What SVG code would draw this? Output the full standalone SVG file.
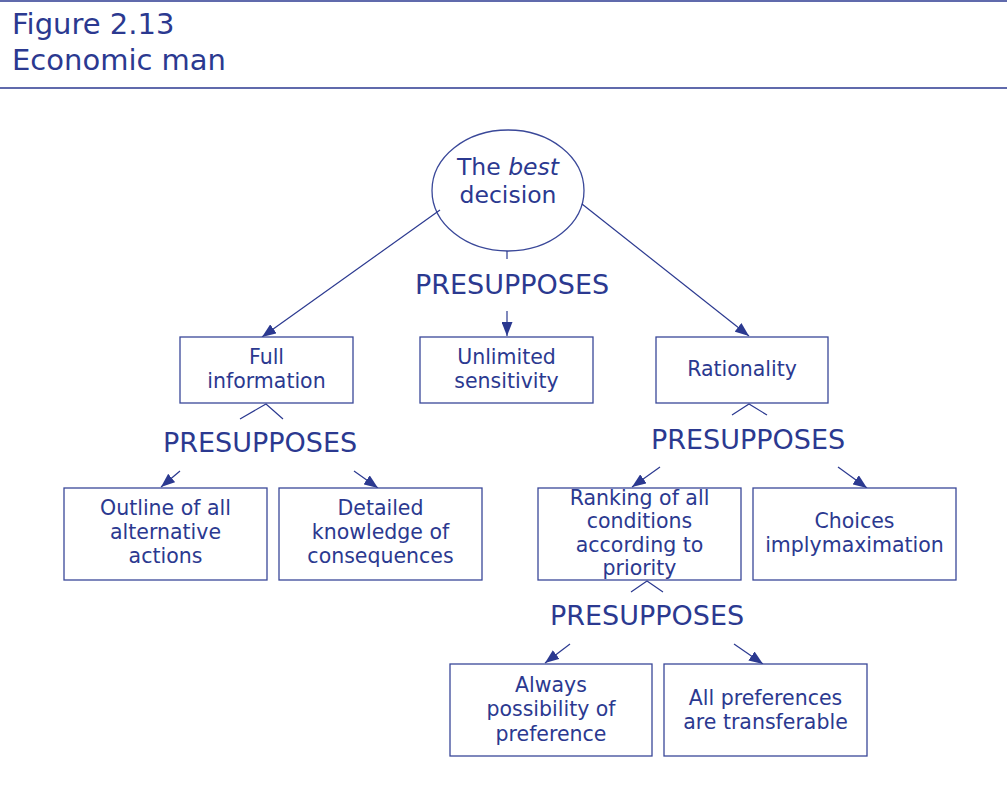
<svg xmlns="http://www.w3.org/2000/svg" width="1007" height="796" viewBox="0 0 1007 796">
<style>
text{font-family:"DejaVu Sans",Verdana,sans-serif;fill:#2b3990}
.t{font-size:29px}
.p{font-size:27px;text-anchor:middle}
.b{font-size:20.5px;text-anchor:middle}
.n{font-size:23.5px;text-anchor:middle}
rect,ellipse{fill:#fff;stroke:#3a4899;stroke-width:1.3}
.c line,.c polyline{stroke:#2b3990;stroke-width:1.2;fill:none}
</style>
<defs>
<marker id="a" viewBox="0 0 14 11" refX="14" refY="5.5" markerWidth="14" markerHeight="11" markerUnits="userSpaceOnUse" orient="auto">
<path d="M0,0L14,5.5L0,11z" fill="#2b3990"/>
</marker>
</defs>
<rect width="1007" height="796" style="stroke:none"/>
<line x1="0" y1="1" x2="1007" y2="1" stroke="#2b3990" stroke-width="1.5"/>
<line x1="0" y1="88" x2="1007" y2="88" stroke="#2b3990" stroke-width="1.5"/>
<text class="t" x="12" y="34">Figure 2.13</text>
<text class="t" x="12" y="70">Economic man</text>

<g id="root"><ellipse cx="508" cy="190.5" rx="76" ry="60.5"/>
<text class="n" x="508" y="175">The <tspan font-style="italic">best</tspan></text>
<text class="n" x="508" y="203">decision</text></g>

<g class="c" id="connectors">
<line x1="440" y1="210" x2="262" y2="337" marker-end="url(#a)"/>
<line x1="582" y1="204" x2="749" y2="336" marker-end="url(#a)"/>
<line x1="507" y1="251" x2="507" y2="259"/>
<line x1="507" y1="311" x2="507" y2="336" marker-end="url(#a)"/>
<polyline points="240,419 266,404 283,419"/>
<line x1="180" y1="471" x2="161" y2="487" marker-end="url(#a)"/>
<line x1="354" y1="471" x2="378" y2="488" marker-end="url(#a)"/>
<polyline points="732,415 749,404 767,415"/>
<line x1="660" y1="467" x2="632" y2="487" marker-end="url(#a)"/>
<line x1="838" y1="467" x2="867" y2="488" marker-end="url(#a)"/>
<polyline points="631,592 647,581 663,592"/>
<line x1="570" y1="644" x2="545" y2="663" marker-end="url(#a)"/>
<line x1="734" y1="644" x2="763" y2="664" marker-end="url(#a)"/>
</g>

<g id="lbl1"><text class="p" x="512" y="294">PRESUPPOSES</text></g>
<g id="lbl2"><text class="p" x="260" y="452">PRESUPPOSES</text></g>
<g id="lbl3"><text class="p" x="748" y="449">PRESUPPOSES</text></g>
<g id="lbl4"><text class="p" x="647" y="625">PRESUPPOSES</text></g>

<g id="full"><rect x="180" y="337" width="173" height="66"/>
<text class="b" x="266.5" y="364">Full</text><text class="b" x="266.5" y="388">information</text></g>
<g id="unlimited"><rect x="420" y="337" width="173" height="66"/>
<text class="b" x="506.5" y="364">Unlimited</text><text class="b" x="506.5" y="388">sensitivity</text></g>
<g id="rationality"><rect x="656" y="337" width="172" height="66"/>
<text class="b" x="742" y="376">Rationality</text></g>

<g id="outline"><rect x="64" y="488" width="203" height="92"/>
<text class="b" x="165.5" y="515">Outline of all</text><text class="b" x="165.5" y="539">alternative</text><text class="b" x="165.5" y="563">actions</text></g>
<g id="detailed"><rect x="279" y="488" width="203" height="92"/>
<text class="b" x="380.5" y="515">Detailed</text><text class="b" x="380.5" y="539">knowledge of</text><text class="b" x="380.5" y="563">consequences</text></g>
<g id="ranking"><rect x="538" y="488" width="203" height="92"/>
<text class="b" x="639.5" y="505">Ranking of all</text><text class="b" x="639.5" y="528">conditions</text><text class="b" x="639.5" y="552">according to</text><text class="b" x="639.5" y="575">priority</text></g>
<g id="choices"><rect x="753" y="488" width="203" height="92"/>
<text class="b" x="854.5" y="528">Choices</text><text class="b" x="854.5" y="552">implymaximation</text></g>

<g id="always"><rect x="450" y="664" width="202" height="92"/>
<text class="b" x="551" y="692">Always</text><text class="b" x="551" y="716">possibility of</text><text class="b" x="551" y="741">preference</text></g>
<g id="allpref"><rect x="664" y="664" width="203" height="92"/>
<text class="b" x="765.5" y="705">All preferences</text><text class="b" x="765.5" y="729">are transferable</text></g>
</svg>
